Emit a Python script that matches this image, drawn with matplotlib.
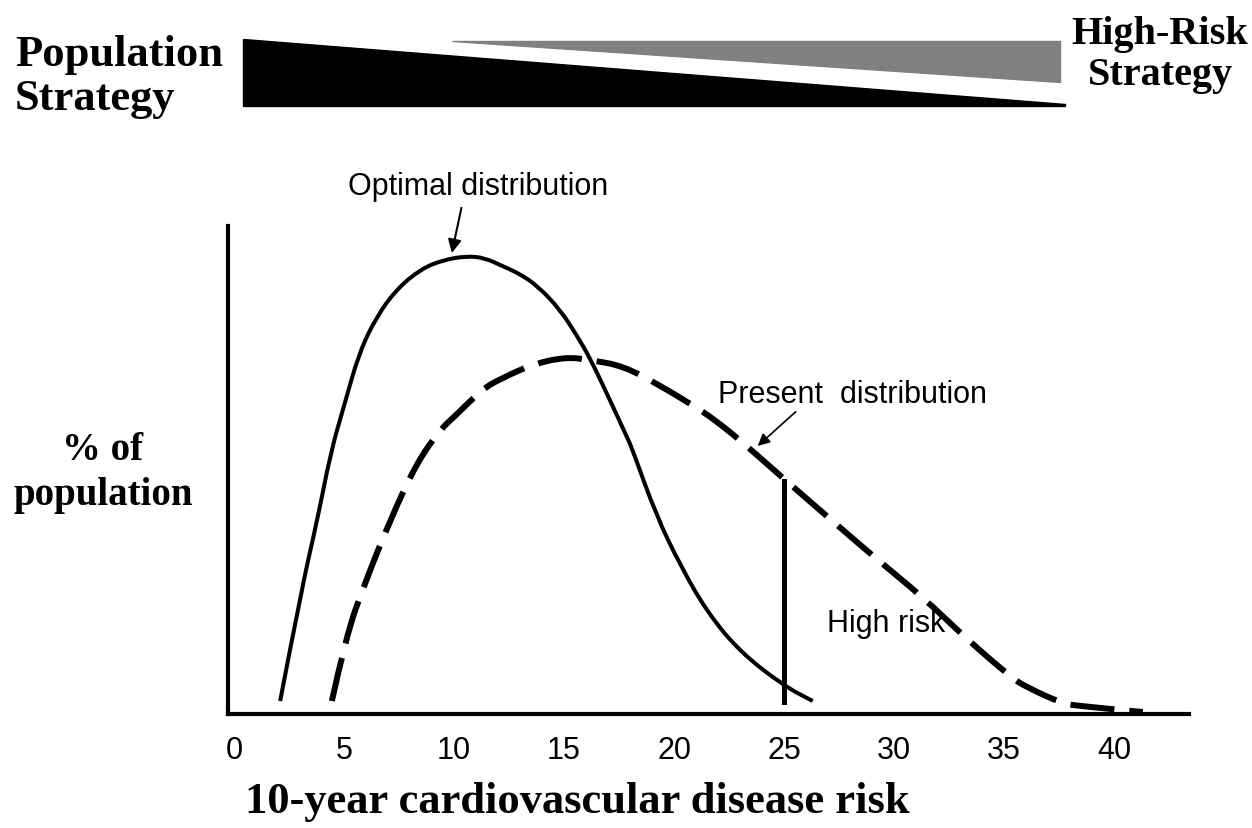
import matplotlib
matplotlib.use('Agg')
import matplotlib.pyplot as plt
from matplotlib.patches import Polygon, PathPatch
from matplotlib.path import Path

# optimal distribution (solid)
opt_x = [2.1, 3.1, 3.8, 4.4, 5.0, 5.7, 6.5, 7.4, 8.5, 9.5, 10.6, 11.4, 12.2, 13.0,
         13.8, 14.8, 15.6, 16.2, 17.0, 17.9, 18.1, 19.2, 20.3, 21.5, 23.0, 25.0, 26.3]
opt_y = [1.3, 12.8, 19.5, 26.2, 30.8, 36.2, 39.8, 42.5, 44.5, 45.4, 45.8, 45.6, 44.8, 44.0,
         42.8, 40.5, 37.8, 35.5, 31.8, 27.5, 26.5, 19.8, 14.8, 10.2, 6.2, 2.8, 1.3]

# present distribution (dashed)
pre_x = [4.45, 5.1, 5.9, 7.1, 8.3, 9.4, 10.0, 11.3, 12.1, 13.6, 15.1, 16.2, 17.7,
         19.4, 20.9, 21.8, 23.1, 25.1, 27.2, 29.2, 31.3, 33.3, 35.3, 36.0, 37.7,
         38.5, 40.3, 41.3]
pre_y = [1.3, 7.8, 12.8, 19.4, 25.1, 28.5, 29.7, 32.5, 33.5, 35.0, 35.7, 35.4, 34.8,
         32.8, 30.8, 29.5, 27.2, 23.3, 19.3, 15.5, 11.7, 7.5, 3.7, 2.7, 1.0,
         0.8, 0.4, 0.2]

cutoff = 25
cut_y = [1.2, 23.3]
xticks = [0, 5, 10, 15, 20, 25, 30, 35, 40]

serif = ['Liberation Serif', 'DejaVu Serif']
sans = ['Liberation Sans', 'DejaVu Sans']


def smooth_path(xs, ys):
    # quadratic bezier through midpoints so the hand drawn curve isn't jagged
    pts = list(zip(xs, ys))
    verts = [pts[0]]
    codes = [Path.MOVETO]
    for i in range(1, len(pts) - 1):
        mid = ((pts[i][0] + pts[i+1][0]) / 2, (pts[i][1] + pts[i+1][1]) / 2)
        verts += [pts[i], mid]
        codes += [Path.CURVE3, Path.CURVE3]
    verts.append(pts[-1])
    codes.append(Path.LINETO)
    return Path(verts, codes)


fig = plt.figure(figsize=(12.52, 8.29), dpi=100)
ax = fig.add_axes([228/1252, 1 - 715/829, 961/1252, 488/829])

ax.add_patch(PathPatch(smooth_path(opt_x, opt_y), fill=False, color='black', lw=2.9,
                       capstyle='butt'))
ax.add_patch(PathPatch(smooth_path(pre_x, pre_y), fill=False, color='black', lw=4.3,
                       linestyle=(0, (7.4, 2.5)), capstyle='butt'))
ax.plot([cutoff, cutoff], cut_y, color='black', lw=3.6)

ax.set_xlim(-0.27, 43.4)
ax.set_ylim(0, 48.8)
for s in ['top', 'right']:
    ax.spines[s].set_visible(False)
for s in ['left', 'bottom']:
    ax.spines[s].set_linewidth(3)
ax.set_yticks([])
ax.set_xticks(xticks)
ax.tick_params(axis='x', length=0, pad=15)
for lab in ax.get_xticklabels():
    lab.set_family(sans)
    lab.set_fontsize(22)

ax.annotate('Optimal distribution', xy=(9.9, 46.1), xytext=(5.2, 52.0),
            fontsize=22, family=sans, ha='left', va='baseline', annotation_clip=False,
            arrowprops=dict(arrowstyle='-|>', color='black', lw=1.5, mutation_scale=20,
                            shrinkA=3, shrinkB=0, relpos=(0.44, 0)))
ax.annotate('Present  distribution', xy=(23.8, 26.8), xytext=(22.0, 31.2),
            fontsize=22, family=sans, ha='left', va='baseline',
            arrowprops=dict(arrowstyle='-|>', color='black', lw=1.2, mutation_scale=18,
                            shrinkA=0, shrinkB=0, relpos=(0.3, 0)))
ax.text(26.95, 8.3, 'High risk', fontsize=22, family=sans, ha='left', va='baseline')

fig.text(577/1252, 1 - 802/829, '10-year cardiovascular disease risk', family=serif,
         fontweight='bold', fontsize=32, ha='center', va='center')
fig.text(103/1252, 1 - 473/829, '% of\npopulation', family=serif, fontweight='bold',
         fontsize=28, ha='center', va='center', linespacing=1.3)

# strategy wedges at the top
top = fig.add_axes([0, 0, 1, 1])
top.set_xlim(0, 1252)
top.set_ylim(829, 0)
top.axis('off')
top.add_patch(Polygon([[243, 40], [243, 107], [1065, 107], [1065, 105]], closed=True,
                      color='black'))
top.add_patch(Polygon([[452, 42], [1060, 42], [1060, 83]], closed=True, color='#808080'))
top.text(15, 77, 'Population\nStrategy', family=serif, fontweight='bold', fontsize=32,
         ha='left', va='center', linespacing=1.1)
top.text(1160, 55, 'High-Risk\nStrategy', family=serif, fontweight='bold', fontsize=29,
         ha='center', va='center', linespacing=1.15)

fig.savefig('out.png', dpi=100)
